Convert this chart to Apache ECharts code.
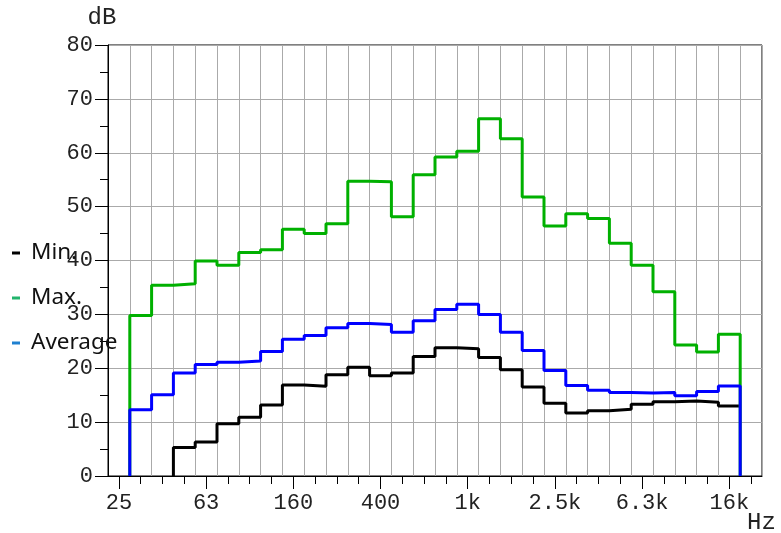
<!DOCTYPE html>
<html>
<head>
<meta charset="utf-8">
<script src="https://cdn.jsdelivr.net/npm/echarts@6/dist/echarts.min.js"></script>
<style>html,body{margin:0;padding:0;background:#fff}#c{width:781px;height:533px}</style>
</head>
<body>
<div id="c"></div>
<script>
const categories = ['25','31.5','40','50','63','80','100','125','160','200','250','315','400','500','630','800','1k','1.25k','1.6k','2k','2.5k','3.15k','4k','5k','6.3k','8k','10k','12.5k','16k','20k'];
const minValues = [null,null,null,5.3,6.3,9.7,10.9,13.2,16.9,16.65,18.8,20.2,18.6,19.1,22.2,23.8,23.6,22.0,19.7,16.5,13.5,11.7,12.1,12.4,13.3,13.8,13.9,13.7,13.0,null];
const maxValues = [null,29.8,35.4,35.7,39.9,39.1,41.5,42.0,45.8,45.0,46.8,54.7,54.6,48.1,55.9,59.2,60.3,66.3,62.6,51.8,46.4,48.7,47.8,43.2,39.1,34.2,24.3,23.0,26.3,null];
const avgValues = [null,12.3,15.1,19.1,20.7,21.1,21.35,23.1,25.4,26.1,27.5,28.3,28.1,26.7,28.8,30.9,31.9,30.0,26.7,23.3,19.6,16.8,15.9,15.5,15.4,15.5,14.9,15.7,16.7,null];
const seriesNames = ['Min.','Max.','Average'];
const lineColors = ['#000000','#00b000','#0000ff'];
const legendColors = ['#000000','#22b46c','#1f80d0'];
const dropAtEnd = [false,true,true];

function stepPoints(values, dropEnd){
  let first = values.findIndex(v => v != null);
  let last = values.length - 1 - values.slice().reverse().findIndex(v => v != null);
  const pts = [[first, 0]];
  for (let i = first; i <= last; i++) {
    pts.push([i, values[i]], [i + 1, values[i]]);
  }
  if (dropEnd) pts.push([last + 1, 0]);
  return pts;
}

const allValues = [minValues, maxValues, avgValues];
const monoFont = 'Liberation Mono';

const chart = echarts.init(document.getElementById('c'), null, {renderer:'canvas'});
chart.setOption({
  animation:false,
  backgroundColor:'#fff',
  grid:{left:108, top:45, width:654, height:431, show:true, borderColor:'#000', borderWidth:1, backgroundColor:'transparent', containLabel:false, outerBoundsMode:'none'},
  legend:{
    orient:'vertical', left:12, top:241, padding:0, itemGap:21,
    itemWidth:8, itemHeight:3, icon:'rect',
    textStyle:{fontFamily:'Noto Sans', fontSize:22.5, color:'#111', lineHeight:24, padding:[0,0,0,6]},
    data: seriesNames.map((n,i)=>({name:n, itemStyle:{color:legendColors[i]}}))
  },
  xAxis:[
    {type:'category', data:categories, position:'bottom', boundaryGap:true,
     name:'Hz', nameLocation:'end', nameGap:-15, nameMoveOverlap:false,
     nameTextStyle:{fontFamily:monoFont, fontSize:24, color:'#222', align:'left', verticalAlign:'top', padding:[35,0,0,0]},
     axisLine:{lineStyle:{color:'#000', width:1}},
     axisTick:{show:true, alignWithLabel:true, interval:3, length:13, lineStyle:{color:'#000'}},
     axisLabel:{interval:3, margin:16, fontFamily:monoFont, fontSize:22, color:'#222'},
     splitLine:{show:true, interval:0, lineStyle:{color:'#aaa', width:1}}},
    {type:'category', data:categories, position:'bottom', boundaryGap:true,
     axisLine:{show:false},
     axisTick:{show:true, alignWithLabel:true, interval:0, length:8, lineStyle:{color:'#000'}},
     axisLabel:{show:false}, splitLine:{show:false}},
    {type:'value', min:0, max:30, show:false, position:'top'}
  ],
  yAxis:{
    type:'value', min:0, max:80, interval:10,
    name:'dB', nameLocation:'end', nameGap:15, nameMoveOverlap:false,
    nameTextStyle:{fontFamily:monoFont, fontSize:24, color:'#222', padding:[0,12,0,0]},
    axisLine:{show:true, lineStyle:{color:'#000', width:1}},
    axisTick:{show:true, length:13, lineStyle:{color:'#000'}},
    minorTick:{show:true, splitNumber:2, length:8, lineStyle:{color:'#000'}},
    axisLabel:{margin:15, fontFamily:monoFont, fontSize:22, color:'#222'},
    splitLine:{show:true, lineStyle:{color:'#aaa', width:1}}
  },
  series: seriesNames.map((n,i)=>({
    name:n, type:'line', xAxisIndex:2, showSymbol:false, symbol:'none',
    data: stepPoints(allValues[i], dropAtEnd[i]),
    lineStyle:{color:lineColors[i], width:3}, itemStyle:{color:lineColors[i]},
    z: 3 + i
  }))
});
</script>
</body>
</html>
